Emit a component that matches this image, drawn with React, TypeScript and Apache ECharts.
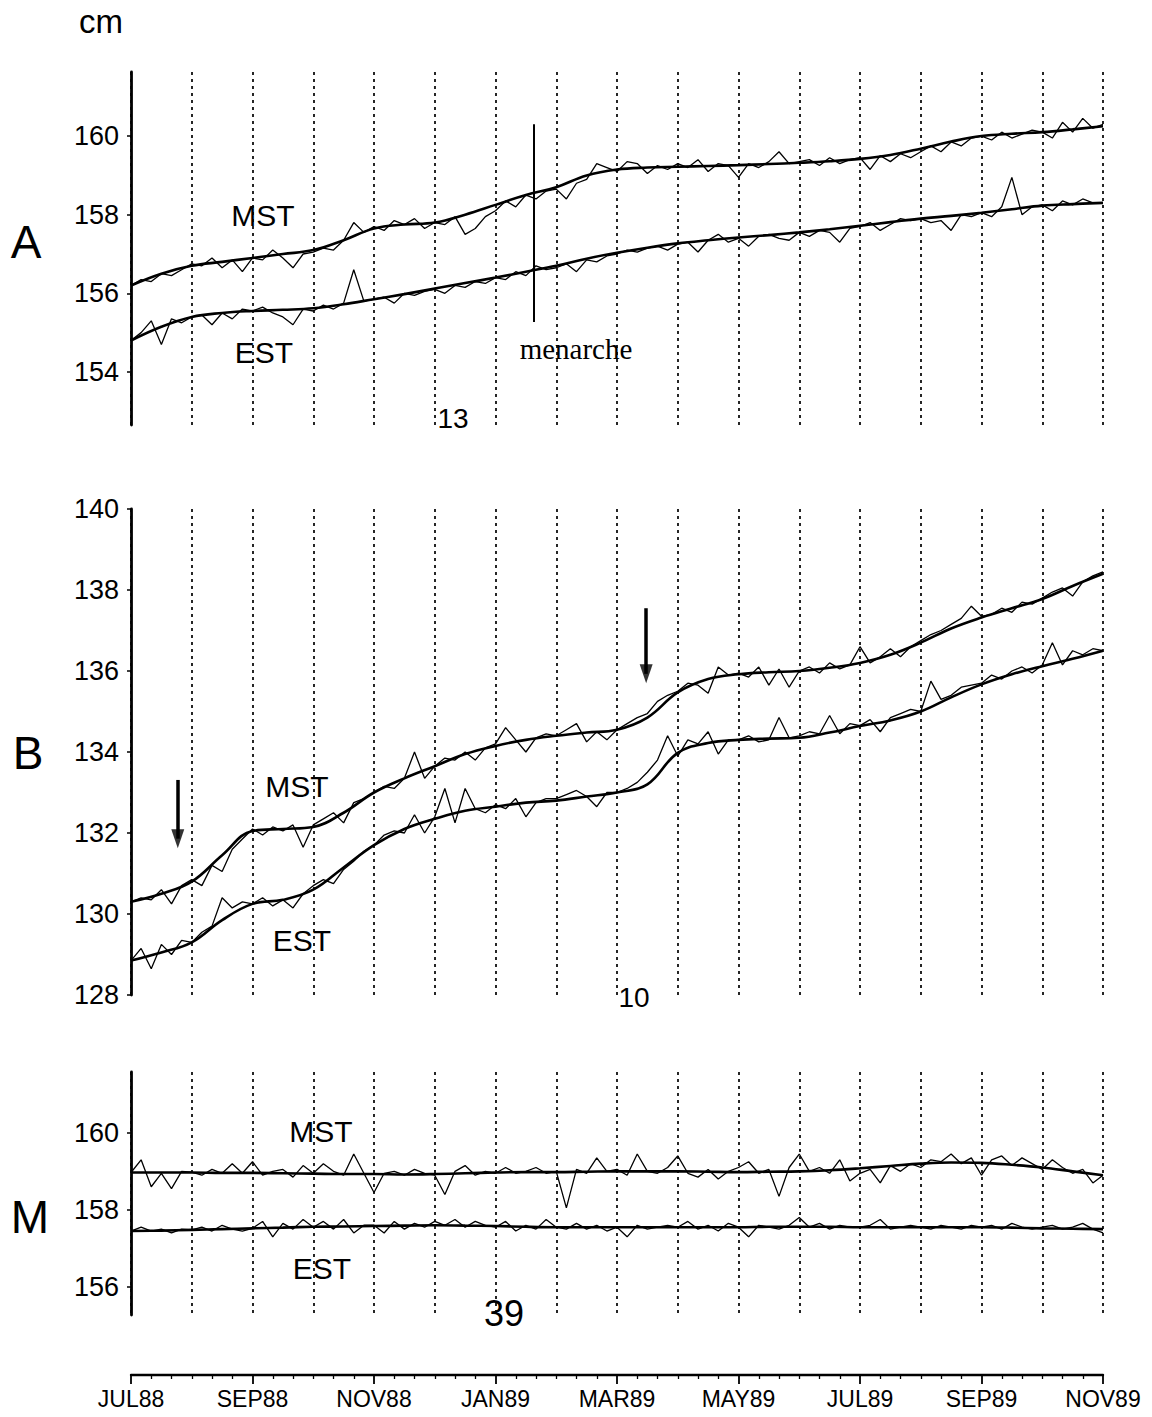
import React, { useEffect, useRef } from "react";
import * as echarts from "echarts";

// Month labels (x = months since JUL88)
const MONTH_LABELS = ["JUL88","AUG88","SEP88","OCT88","NOV88","DEC88","JAN89","FEB89","MAR89","APR89","MAY89","JUN89","JUL89","AUG89","SEP89","OCT89","NOV89"];

// Raw series: 6 readings per month (step 1/6 month)
const A_MST_RAW = [
  156.2,156.35,156.3,156.5,156.45,156.6,
  156.75,156.7,156.9,156.65,156.85,156.55,
  156.9,156.85,157.1,156.9,156.65,157.0,
  157.05,157.15,157.1,157.35,157.8,157.55,
  157.7,157.6,157.85,157.75,157.9,157.65,
  157.8,157.75,157.95,157.5,157.65,157.95,
  158.1,158.35,158.2,158.5,158.4,158.6,
  158.65,158.4,158.8,158.9,159.3,159.2,
  159.1,159.35,159.3,159.05,159.25,159.15,
  159.3,159.2,159.4,159.1,159.3,159.25,
  158.95,159.3,159.2,159.35,159.6,159.3,
  159.35,159.4,159.25,159.45,159.3,159.4,
  159.45,159.15,159.5,159.35,159.55,159.45,
  159.6,159.75,159.6,159.85,159.75,159.95,
  160.0,159.9,160.1,159.95,160.05,160.15,
  160.1,159.95,160.35,160.1,160.45,160.2,
  160.3
];
const A_EST_RAW = [
  154.8,155.0,155.3,154.7,155.35,155.25,
  155.4,155.45,155.2,155.5,155.35,155.6,
  155.55,155.65,155.5,155.4,155.2,155.6,
  155.55,155.7,155.6,155.75,156.6,155.8,
  155.85,155.9,155.75,156.0,155.95,156.05,
  156.1,156.0,156.2,156.15,156.3,156.25,
  156.4,156.35,156.55,156.45,156.7,156.6,
  156.65,156.75,156.55,156.85,156.8,156.95,
  157.0,157.1,157.05,157.15,157.2,157.1,
  157.25,157.3,157.05,157.35,157.5,157.3,
  157.4,157.2,157.45,157.5,157.4,157.35,
  157.55,157.45,157.6,157.55,157.3,157.65,
  157.7,157.8,157.6,157.75,157.9,157.85,
  157.9,157.8,157.85,157.6,158.0,157.95,
  158.05,157.95,158.2,158.95,158.0,158.2,
  158.25,158.1,158.35,158.25,158.4,158.3,
  158.3
];
const B_MST_RAW = [
  130.3,130.4,130.35,130.6,130.25,130.7,
  130.85,130.7,131.2,131.05,131.6,131.85,
  132.1,131.95,132.15,132.05,132.2,131.65,
  132.2,132.35,132.5,132.25,132.75,132.85,
  133.0,133.15,133.1,133.35,134.0,133.35,
  133.65,133.85,133.8,134.0,133.8,134.1,
  134.2,134.6,134.3,134.0,134.35,134.45,
  134.4,134.55,134.7,134.25,134.5,134.3,
  134.55,134.7,134.85,134.95,135.25,135.4,
  135.5,135.7,135.65,135.45,136.1,135.9,
  135.95,135.85,136.1,135.65,136.05,135.6,
  136.0,136.1,135.95,136.2,136.05,136.15,
  136.6,136.2,136.35,136.55,136.35,136.6,
  136.75,136.9,137.0,137.15,137.3,137.6,
  137.35,137.4,137.55,137.45,137.7,137.65,
  137.8,137.95,138.05,137.85,138.2,138.35,
  138.45
];
const B_EST_RAW = [
  128.85,129.15,128.65,129.25,129.0,129.35,
  129.3,129.55,129.7,130.4,130.15,130.3,
  130.25,130.4,130.2,130.35,130.15,130.5,
  130.7,130.85,130.75,131.1,131.3,131.55,
  131.7,131.95,132.05,132.0,132.45,132.0,
  132.4,133.1,132.25,133.1,132.6,132.5,
  132.7,132.6,132.85,132.4,132.75,132.85,
  132.85,132.95,133.05,132.9,132.65,133.0,
  133.0,133.1,133.25,133.5,133.8,134.4,
  133.9,134.3,134.2,134.5,133.95,134.3,
  134.3,134.4,134.25,134.3,134.85,134.35,
  134.4,134.5,134.45,134.9,134.45,134.7,
  134.65,134.8,134.5,134.85,134.95,135.05,
  135.0,135.75,135.3,135.4,135.6,135.65,
  135.7,135.9,135.8,136.0,136.1,135.95,
  136.15,136.7,136.15,136.5,136.4,136.55,
  136.5
];
const M_MST_RAW = [
  158.97,159.3,158.6,158.95,158.55,159.0,
  158.98,158.9,159.05,158.95,159.2,158.95,
  159.25,158.9,159.0,159.05,158.85,159.15,
  158.95,159.2,159.0,158.9,159.45,158.95,
  158.45,158.95,159.0,158.9,159.05,158.95,
  158.9,158.4,159.0,159.15,158.9,159.0,
  158.95,159.1,158.95,159.0,159.1,158.95,
  159.0,158.05,159.05,158.95,159.35,159.0,
  159.05,158.9,159.45,159.0,158.95,159.1,
  159.4,158.95,158.85,159.05,158.8,159.0,
  159.1,159.25,158.95,159.05,158.35,159.1,
  159.45,159.0,159.1,158.95,159.3,158.75,
  158.95,159.05,158.7,159.15,159.0,159.2,
  159.1,159.3,159.25,159.45,159.2,159.35,
  158.9,159.3,159.4,159.15,159.35,159.2,
  159.05,159.3,159.1,158.95,159.05,158.7,
  158.9
];
const M_EST_RAW = [
  157.45,157.55,157.45,157.5,157.4,157.5,
  157.48,157.55,157.45,157.6,157.5,157.45,
  157.52,157.7,157.3,157.65,157.5,157.75,
  157.55,157.7,157.5,157.75,157.4,157.6,
  157.6,157.4,157.7,157.5,157.65,157.55,
  157.7,157.6,157.75,157.55,157.7,157.6,
  157.55,157.7,157.45,157.6,157.5,157.75,
  157.55,157.5,157.65,157.5,157.6,157.45,
  157.55,157.3,157.6,157.5,157.55,157.6,
  157.55,157.7,157.5,157.6,157.45,157.65,
  157.55,157.3,157.6,157.55,157.5,157.6,
  157.8,157.55,157.65,157.5,157.6,157.55,
  157.55,157.6,157.75,157.5,157.55,157.6,
  157.55,157.5,157.6,157.55,157.5,157.6,
  157.55,157.6,157.5,157.65,157.55,157.5,
  157.55,157.6,157.5,157.55,157.65,157.5,
  157.4
];

// Smoothed series: one reading per half month
const A_MST_SMOOTH = [156.2,156.5,156.7,156.8,156.9,157.0,157.1,157.35,157.65,157.75,157.8,158.0,158.25,158.5,158.7,159.0,159.15,159.2,159.22,159.24,159.26,159.29,159.32,159.36,159.42,159.52,159.68,159.86,160.0,160.06,160.1,160.17,160.25];
const A_EST_SMOOTH = [154.8,155.15,155.4,155.5,155.55,155.58,155.62,155.72,155.85,155.98,156.12,156.26,156.4,156.55,156.7,156.88,157.03,157.16,157.27,157.35,157.42,157.48,157.55,157.63,157.72,157.81,157.9,157.97,158.05,158.14,158.23,158.27,158.3];
const B_MST_SMOOTH = [130.3,130.5,130.8,131.45,132.05,132.1,132.15,132.5,133.0,133.35,133.65,133.95,134.15,134.3,134.4,134.48,134.55,134.85,135.47,135.8,135.92,135.97,136.0,136.08,136.2,136.4,136.7,137.05,137.32,137.55,137.78,138.1,138.4];
const B_EST_SMOOTH = [128.85,129.05,129.3,129.85,130.25,130.35,130.6,131.15,131.7,132.1,132.35,132.55,132.65,132.75,132.8,132.9,133.0,133.2,133.98,134.22,134.3,134.33,134.35,134.48,134.64,134.78,135.0,135.35,135.67,135.92,136.12,136.3,136.5];
const M_MST_SMOOTH = [158.97,158.97,158.97,158.96,158.96,158.95,158.94,158.93,158.93,158.92,158.93,158.95,158.97,158.98,158.98,158.99,159.0,159.0,159.0,158.99,158.98,158.99,159.0,159.03,159.08,159.14,159.2,159.23,159.22,159.17,159.1,159.0,158.9];
const M_EST_SMOOTH = [157.45,157.46,157.48,157.5,157.52,157.54,157.56,157.57,157.58,157.59,157.6,157.59,157.58,157.56,157.55,157.55,157.55,157.55,157.55,157.55,157.55,157.56,157.56,157.56,157.55,157.55,157.55,157.55,157.55,157.54,157.52,157.51,157.5];

// Annotations (data coordinates)
const MENARCHE = { month: 6.63, top: 160.3, bottom: 155.27 };
const B_ARROWS = [
  { month: 0.77, top: 133.31, head: 131.86 },
  { month: 8.48, top: 137.55, head: 135.93 },
];

const Y_RANGES = [
  { min: 152.65, max: 161.63 },
  { min: 128, max: 140 },
  { min: 155.27, max: 161.58 },
];

const SANS = '"Liberation Sans", Arial, Helvetica, sans-serif';

function pairs(arr: number[], step: number) {
  return arr.map((v, i) => [i * step, v]);
}

export default function App() {
  const ref = useRef<HTMLDivElement>(null);
  useEffect(() => {
    if (!ref.current) return;
    const chart = echarts.init(ref.current, undefined, { renderer: "svg" });

    const grids = [
      { left: 131, top: 72, width: 972, height: 353 },
      { left: 131, top: 509, width: 972, height: 486 },
      { left: 131, top: 1072, width: 972, height: 243 },
    ];

    const monthAxis = (gi: number) => ({
      type: "value",
      gridIndex: gi,
      min: 0,
      max: 16,
      interval: 1,
      axisLine: { show: false },
      axisTick: { show: false },
      axisLabel: { show: false },
      splitLine: { show: true, lineStyle: { color: "#000", width: 1.7, type: [3, 4] } },
    });

    const yAxis = (gi: number) => ({
      type: "value",
      gridIndex: gi,
      min: Y_RANGES[gi].min,
      max: Y_RANGES[gi].max,
      minInterval: 2,
      maxInterval: 2,
      splitLine: { show: false },
      axisLine: { show: true, lineStyle: { color: "#000", width: 2.8 } },
      axisTick: { show: true, length: 4, lineStyle: { color: "#000", width: 1.5 } },
      axisLabel: {
        margin: 12,
        color: "#000",
        fontSize: 27,
        fontFamily: SANS,
        showMinLabel: gi === 1,
        showMaxLabel: gi === 1,
        formatter: (v: number) => {
          const r = Math.round(v);
          return Math.abs(v - r) < 1e-6 && r % 2 === 0 ? String(r) : "";
        },
      },
    });

    const raw = (data: number[], gi: number, extra: any = {}) => ({
      type: "line",
      xAxisIndex: gi,
      yAxisIndex: gi,
      data: pairs(data, 1 / 6),
      showSymbol: false,
      symbol: "none",
      silent: true,
      lineStyle: { color: "#000", width: 1.3 },
      ...extra,
    });
    const smooth = (data: number[], gi: number) => ({
      type: "line",
      xAxisIndex: gi,
      yAxisIndex: gi,
      data: pairs(data, 0.5),
      smooth: 0.4,
      showSymbol: false,
      symbol: "none",
      silent: true,
      lineStyle: { color: "#000", width: 2.6 },
    });

    const txt = (text: string, x: number, y: number, size: number, family = SANS) => ({
      type: "text",
      x,
      y,
      silent: true,
      style: {
        text,
        fill: "#000",
        fontSize: size,
        fontFamily: family,
        align: "center",
        verticalAlign: "middle",
        textAlign: "center",
        textVerticalAlign: "middle",
      },
    });

    chart.setOption({
      animation: false,
      backgroundColor: "#fff",
      grid: grids,
      xAxis: [
        monthAxis(0),
        monthAxis(1),
        monthAxis(2),
        {
          type: "value",
          gridIndex: 2,
          position: "bottom",
          offset: 60,
          min: 0,
          max: 16,
          interval: 2,
          splitLine: { show: false },
          axisLine: { show: true, lineStyle: { color: "#000", width: 2.4 } },
          axisTick: { show: true, length: 9, lineStyle: { color: "#000", width: 1.8 } },
          minorTick: { show: true, splitNumber: 6, length: 4, lineStyle: { color: "#000", width: 1.3 } },
          axisLabel: {
            margin: 12,
            color: "#000",
            fontSize: 23,
            fontFamily: SANS,
            formatter: (v: number) => MONTH_LABELS[Math.round(v)] ?? "",
          },
        },
      ],
      yAxis: [yAxis(0), yAxis(1), yAxis(2)],
      series: [
        raw(A_MST_RAW, 0, {
          markLine: {
            silent: true,
            symbol: "none",
            label: { show: false },
            lineStyle: { color: "#000", width: 2, type: "solid" },
            data: [[{ coord: [MENARCHE.month, MENARCHE.top] }, { coord: [MENARCHE.month, MENARCHE.bottom] }]],
          },
        }),
        smooth(A_MST_SMOOTH, 0),
        raw(A_EST_RAW, 0),
        smooth(A_EST_SMOOTH, 0),
        raw(B_MST_RAW, 1, {
          markLine: {
            silent: true,
            symbol: "none",
            label: { show: false },
            lineStyle: { color: "#000", width: 3.5, type: "solid" },
            data: B_ARROWS.map((a) => [{ coord: [a.month, a.top] }, { coord: [a.month, a.head] }]),
          },
        }),
        smooth(B_MST_SMOOTH, 1),
        raw(B_EST_RAW, 1),
        smooth(B_EST_SMOOTH, 1),
        {
          type: "scatter",
          xAxisIndex: 1,
          yAxisIndex: 1,
          silent: true,
          symbol: "triangle",
          symbolRotate: 180,
          symbolSize: [13, 19],
          itemStyle: { color: "#000" },
          data: B_ARROWS.map((a) => [a.month, a.head]),
        },
        raw(M_MST_RAW, 2),
        smooth(M_MST_SMOOTH, 2),
        raw(M_EST_RAW, 2),
        smooth(M_EST_SMOOTH, 2),
      ],
      graphic: [
        txt("cm", 101, 21, 33),
        txt("A", 26, 242, 46),
        txt("B", 28, 753, 46),
        txt("M", 30, 1217, 46),
        txt("MST", 263, 215, 30),
        txt("EST", 264, 352, 30),
        txt("MST", 297, 786, 30),
        txt("EST", 302, 940, 30),
        txt("MST", 321, 1131, 30),
        txt("EST", 322, 1268, 30),
        txt("13", 453, 418, 28),
        txt("10", 634, 997, 28),
        txt("39", 504, 1313, 36),
        txt("menarche", 576, 349, 29, '"Liberation Serif", "Times New Roman", serif'),
      ],
    });
    return () => chart.dispose();
  }, []);

  return (
    <div
      ref={ref}
      style={{ position: "absolute", left: 0, top: 0, width: 1152, height: 1417, background: "#fff" }}
    />
  );
}
